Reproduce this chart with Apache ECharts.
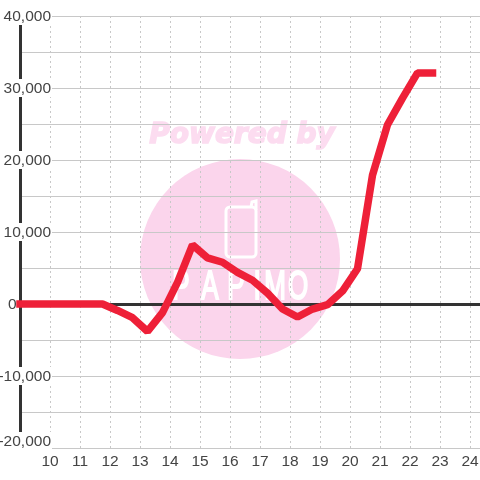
<!DOCTYPE html>
<html>
<head>
<meta charset="utf-8">
<style>
  html, body { margin: 0; padding: 0; background: #fff; }
  #main { width: 480px; height: 480px; }
</style>
<script src="https://cdn.jsdelivr.net/npm/echarts@6/dist/echarts.min.js"></script>
</head>
<body>
<div id="main"></div>
<script>
// time of day (hours) and value at each sample
var hours = [9, 11.75, 12.25, 12.75, 13.25, 13.75, 14.25, 14.75, 15.25, 15.75, 16.25, 16.75, 17.25, 17.75, 18.25, 18.75, 19.25, 19.75, 20.25, 20.75, 21.25, 21.75, 22.25, 22.75];
var values = [0, 0, -900, -1900, -3800, -1200, 3000, 8200, 6400, 5800, 4400, 3300, 1500, -700, -1800, -700, -100, 1800, 4900, 17900, 24900, 28600, 32100, 32100];
var logoLetters = ['P', 'A', 'P', 'I', 'M', 'O'];

var points = hours.map(function (h, i) { return [h, values[i]]; });
var gridColor = '#c8c8c8';
var axisColor = '#333333';
var pink = '#fbd5ec';
var letterX = [181, 210, 236, 257, 275, 298];

var watermark = [
  { type: 'circle', z: -10, shape: { cx: 240, cy: 259, r: 100 }, style: { fill: pink } },
  { type: 'text', z: -10, x: 242, y: 136, style: {
    text: 'Powered by', fill: '#fcdcf0', stroke: '#fcdcf0', lineWidth: 1.5, align: 'center', verticalAlign: 'middle',
    font: 'italic bold 28px "DejaVu Sans"'
  } },
  { type: 'rect', z: -9, shape: { x: 226, y: 207, width: 30, height: 50, r: 4 },
    style: { fill: 'none', stroke: '#fff', lineWidth: 3 } },
  { type: 'polyline', z: -9, shape: { points: [[251, 207], [252, 202], [256, 201], [256, 210]] },
    style: { fill: 'none', stroke: '#fff', lineWidth: 3 } }
];
logoLetters.forEach(function (letter, i) {
  watermark.push({ type: 'text', z: -9, x: letterX[i], y: 288, scaleX: 0.65, style: {
    text: letter, fill: '#fff', stroke: '#fff', lineWidth: 2, align: 'center', verticalAlign: 'middle',
    font: '40px "Liberation Sans"'
  } });
});

var chart = echarts.init(document.getElementById('main'));
chart.setOption({
  animation: false,
  backgroundColor: '#fff',
  textStyle: { fontFamily: '"Liberation Sans"' },
  graphic: watermark,
  grid: { left: 20, right: 0, top: 16, bottom: 32, outerBoundsMode: 'none' },
  xAxis: [
    {
      type: 'value',
      position: 'bottom',
      min: 9,
      max: 24.333,
      interval: 1,
      axisLine: { onZero: false, show: false },
      axisTick: { show: false },
      axisLabel: {
        color: '#444',
        fontSize: 15.5,
        margin: 6,
        showMinLabel: false,
        showMaxLabel: false
      },
      splitLine: {
        show: true,
        showMinLine: false,
        showMaxLine: false,
        lineStyle: { color: gridColor, type: [2, 3], width: 1 }
      }
    },
    {
      // thick line through zero, no labels
      type: 'value',
      min: 9,
      max: 24.333,
      interval: 1,
      axisLine: { show: true, onZero: true, lineStyle: { color: axisColor, width: 3 } },
      axisTick: { show: false },
      axisLabel: { show: false },
      splitLine: { show: false }
    }
  ],
  yAxis: {
    type: 'value',
    min: -20000,
    max: 40000,
    interval: 10000,
    axisLine: { show: true, onZero: false, lineStyle: { color: axisColor, width: 3 } },
    axisTick: { show: false },
    minorTick: { show: false, splitNumber: 2 },
    minorSplitLine: { show: true, lineStyle: { color: gridColor, width: 1 } },
    splitLine: { show: true, lineStyle: { color: gridColor, width: 1 } },
    axisLabel: {
      align: 'right',
      margin: -32,
      fontSize: 15.5,
      color: '#444',
      verticalAlignMinLabel: 'bottom',
      formatter: function (v) {
        if (v === 0) return '{zero|0}';
        return '{num|' + v.toLocaleString('en-US') + '}';
      },
      rich: {
        num: { fontSize: 15.5, color: '#444', backgroundColor: '#fff', lineHeight: 14, padding: [2, 1, 0, 1] },
        zero: { fontSize: 15.5, color: '#444', width: 44, align: 'left', lineHeight: 14, padding: [2, 0, 0, 0] }
      }
    }
  },
  series: [{
    type: 'line',
    data: points,
    symbol: 'none',
    clip: false,
    z: 5,
    lineStyle: { color: '#ee2038', width: 7.5, cap: 'square' }
  }]
});
</script>
</body>
</html>
